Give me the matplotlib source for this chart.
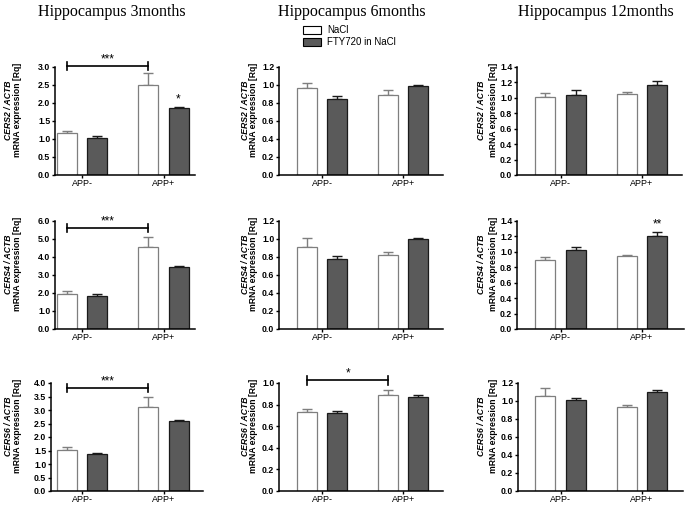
import numpy as np
import matplotlib.pyplot as plt
from matplotlib.patches import Patch

plt.rcParams["font.family"] = ["Liberation Sans", "DejaVu Sans"]

W, H = 685, 505

groups = ["APP-", "APP+"]
treatments = ["NaCl", "FTY720 in NaCl"]
timepoints = ["Hippocampus 3months", "Hippocampus 6months", "Hippocampus 12months"]
genes = ["CERS2", "CERS4", "CERS6"]

# mean and SEM per timepoint (3m, 6m, 12m), each as [APP-, APP+]
cers2_nacl = [[1.16, 2.49], [0.97, 0.89], [1.01, 1.05]]
cers2_nacl_sem = [[0.05, 0.33], [0.05, 0.055], [0.05, 0.025]]
cers2_fty = [[1.04, 1.87], [0.85, 0.99], [1.04, 1.17]]
cers2_fty_sem = [[0.04, 0.02], [0.03, 0.015], [0.06, 0.055]]

cers4_nacl = [[1.92, 4.56], [0.91, 0.82], [0.89, 0.94]]
cers4_nacl_sem = [[0.20, 0.55], [0.10, 0.04], [0.04, 0.013]]
cers4_fty = [[1.85, 3.42], [0.775, 1.00], [1.025, 1.21]]
cers4_fty_sem = [[0.07, 0.09], [0.035, 0.015], [0.04, 0.045]]

cers6_nacl = [[1.53, 3.12], [0.73, 0.885], [1.06, 0.935]]
cers6_nacl_sem = [[0.10, 0.37], [0.03, 0.05], [0.08, 0.02]]
cers6_fty = [[1.37, 2.58], [0.72, 0.875], [1.01, 1.095]]
cers6_fty_sem = [[0.025, 0.06], [0.02, 0.015], [0.025, 0.03]]

nacl = [cers2_nacl, cers4_nacl, cers6_nacl]
nacl_sem = [cers2_nacl_sem, cers4_nacl_sem, cers6_nacl_sem]
fty = [cers2_fty, cers4_fty, cers6_fty]
fty_sem = [cers2_fty_sem, cers4_fty_sem, cers6_fty_sem]

# y axis range / tick step per panel (rows = genes, cols = timepoints)
y_max = [[3.0, 1.2, 1.4], [6.0, 1.2, 1.4], [4.0, 1.0, 1.2]]
y_step = [[0.5, 0.2, 0.2], [1.0, 0.2, 0.2], [0.5, 0.2, 0.2]]

# NaCl APP- vs NaCl APP+ brackets: (row, col, y, label)
brackets = [(0, 0, 3.03, "***"), (1, 0, 5.61, "***"), (2, 0, 3.82, "***"), (2, 1, 1.024, "*")]
# stars above a single FTY720 bar: (row, col, group, y, label)
stars = [(0, 0, 1, 2.2, "*"), (1, 2, 1, 1.4, "**")]

# ── layout in pixels ──────────────────────────────────────────────────────
rows_px = [(67, 175), (221, 329), (383, 491)]
cols_px = [[(55, 195), (279, 443), (517, 682)],
           [(55, 195), (279, 443), (517, 684)],
           [(51, 203), (279, 443), (518, 683)]]
group_px = [(82.25, 81.25), (322, 81.25), (560.5, 81.5)]   # APP- centre, group spacing
label_x = [(8.5, 18), (245, 254), (482, 494)]            # x of the two y-label lines
title_x = [112, 352, 596]

d, w = 0.185, 0.246
white_edge = "#7f7f7f"
dark_fill = "#5a5a5a"
dark_edge = "#1a1a1a"

fig = plt.figure(figsize=(W / 100, H / 100), dpi=100)

for t, title in enumerate(timepoints):
    fig.text(title_x[t] / W, 1 - 12 / H, title, ha="center", va="center",
             fontsize=11.5, family=["Liberation Serif", "DejaVu Serif"])

for r, gene in enumerate(genes):
    top, bot = rows_px[r]
    for c in range(3):
        left, right = cols_px[r][c]
        ax = fig.add_axes([left / W, 1 - bot / H, (right - left) / W, (bot - top) / H])
        g0, gs = group_px[c]
        x = np.arange(len(groups))

        ax.bar(x - d, nacl[r][c], w, color="white", edgecolor=white_edge, linewidth=0.9, zorder=2)
        ax.bar(x + d, fty[r][c], w, color=dark_fill, edgecolor=dark_edge, linewidth=0.9, zorder=2)
        ax.errorbar(x - d, nacl[r][c], yerr=[np.zeros(2), nacl_sem[r][c]], fmt="none",
                    ecolor=white_edge, elinewidth=1.0, capsize=3.5, capthick=1.0, zorder=1)
        ax.errorbar(x + d, fty[r][c], yerr=[np.zeros(2), fty_sem[r][c]], fmt="none",
                    ecolor=dark_edge, elinewidth=1.0, capsize=3.5, capthick=1.0, zorder=1)

        ax.set_xlim((left - g0) / gs, (right - g0) / gs)
        ax.set_ylim(0, y_max[r][c])
        ticks = np.arange(0, y_max[r][c] + 1e-9, y_step[r][c])
        ax.set_yticks(ticks)
        ax.set_yticklabels([f"{v:.1f}" for v in ticks], fontsize=6.3, fontweight="bold")
        ax.set_xticks(x)
        ax.set_xticklabels(groups, fontsize=6.5)

        for s in ["top", "right"]:
            ax.spines[s].set_visible(False)
        for s in ["left", "bottom"]:
            ax.spines[s].set_linewidth(1.1)
        ax.tick_params(axis="y", length=2.2, width=1.0, pad=1.2)
        ax.tick_params(axis="x", length=2.0, width=1.0, pad=0.8)

        # two-line y label, placed in figure pixels
        yc = 1 - (top + 0.4 * (bot - top)) / H
        fig.text(label_x[c][0] / W, yc, f"{gene} / ACTB", rotation=90, ha="center",
                 va="center", fontsize=6.2, fontweight="bold", fontstyle="italic")
        fig.text(label_x[c][1] / W, yc, "mRNA expression [Rq]", rotation=90, ha="center",
                 va="center", fontsize=6.2, fontweight="bold")

        # significance marks
        for br, bc, by, lab in brackets:
            if (br, bc) != (r, c):
                continue
            x0, x1 = -d, 1 - d
            tick = y_max[r][c] * 0.04
            ax.plot([x0, x1], [by, by], color="black", lw=1.2, clip_on=False)
            ax.plot([x0, x0], [by - tick, by + tick], color="black", lw=1.2, clip_on=False)
            ax.plot([x1, x1], [by - tick, by + tick], color="black", lw=1.2, clip_on=False)
            ax.annotate(lab, xy=((x0 + x1) / 2, by), xytext=(0, 0.5), textcoords="offset points",
                        ha="center", va="bottom", fontsize=8.5, annotation_clip=False)
        for sr, sc, sg, sy, lab in stars:
            if (sr, sc) != (r, c):
                continue
            ax.annotate(lab, xy=(sg + d, sy), xytext=(0, -4.5), textcoords="offset points",
                        ha="center", va="baseline", fontsize=8.5, annotation_clip=False)

handles = [Patch(facecolor="white", edgecolor="black", linewidth=0.8),
           Patch(facecolor=dark_fill, edgecolor="black", linewidth=0.8)]
fig.legend(handles, treatments, loc="upper left", bbox_to_anchor=(303 / W, 1 - 25 / H),
           frameon=False, fontsize=7, borderpad=0, borderaxespad=0,
           handlelength=1.9, handleheight=0.9, labelspacing=0.2, handletextpad=0.6)

fig.savefig("out.png", dpi=100)
